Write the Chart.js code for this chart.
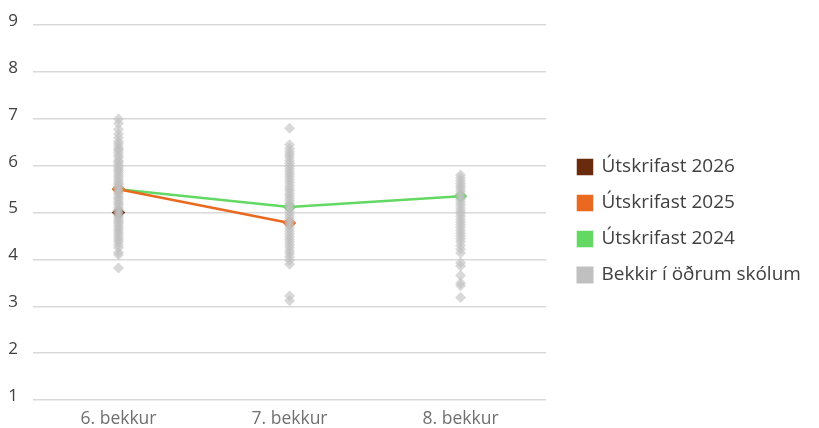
<!DOCTYPE html>
<html>
<head>
<meta charset="utf-8">
<script src="https://cdn.jsdelivr.net/npm/chart.js@4"></script>
<style>
  html, body { margin: 0; padding: 0; background: #fff; }
  #wrap { width: 819px; height: 428px; }
</style>
</head>
<body>
<div id="wrap"><canvas id="myChart"></canvas></div>
<script>
// Flokkar (bekkir)
const bekkir = ["6. bekkur", "7. bekkur", "8. bekkur"];

// Meðaltöl árganga
const utskrifast2026 = [5.0, null, null];
const utskrifast2025 = [5.5, 4.78, null];
const utskrifast2024 = [5.5, 5.12, 5.35];

// Bekkir í öðrum skólum (eitt gildi á hvern bekk)
const adrir6 = [7.0, 6.9, 6.78, 6.68, 6.6, 6.52, 6.47, 6.41, 6.36, 6.33, 6.28, 6.22, 6.18, 6.12, 6.08,
  6.03, 5.98, 5.94, 5.9, 5.86, 5.81, 5.77, 5.72, 5.68, 5.63, 5.6, 5.55, 5.51, 5.46, 5.42, 5.38,
  5.33, 5.29, 5.24, 5.2, 5.16, 5.11, 5.07, 5.02, 4.98, 4.93, 4.89, 4.84, 4.8, 4.76, 4.71, 4.66,
  4.62, 4.57, 4.52, 4.47, 4.42, 4.37, 4.31, 4.25, 4.15, 4.1, 3.82];
const adrir7 = [6.8, 6.45, 6.37, 6.3, 6.24, 6.18, 6.11, 6.05, 5.99, 5.93, 5.87, 5.82, 5.76, 5.7,
  5.64, 5.58, 5.52, 5.47, 5.41, 5.36, 5.3, 5.25, 5.19, 5.13, 5.08, 5.02, 4.96, 4.9, 4.85, 4.79,
  4.73, 4.67, 4.61, 4.55, 4.49, 4.43, 4.37, 4.31, 4.25, 4.18, 4.12, 4.05, 3.98, 3.9, 3.22, 3.12];
const adrir8 = [5.8, 5.74, 5.68, 5.62, 5.57, 5.52, 5.46, 5.4, 5.34, 5.28, 5.22, 5.16, 5.1, 5.04,
  4.98, 4.92, 4.86, 4.8, 4.74, 4.68, 4.62, 4.56, 4.5, 4.44, 4.38, 4.3, 4.22, 4.14, 3.93, 3.86,
  3.66, 3.5, 3.44, 3.19];

const adrirPunktar = [];
[adrir6, adrir7, adrir8].forEach((listi, i) => {
  listi.forEach((v) => adrirPunktar.push({ x: bekkir[i], y: v }));
});

// Færa skýringuna aðeins til hægri og niður frá teikningunni
const legendShift = {
  id: "legendShift",
  afterLayout(chart) {
    const lg = chart.legend;
    const d = 578 - 17 - lg.left;
    lg.left += d;
    lg.right += d;
    lg.top += 2;
    lg.bottom += 2;
  },
};

const ctx = document.getElementById("myChart").getContext("2d");
new Chart(ctx, {
  type: "line",
  plugins: [legendShift],
  data: {
    labels: bekkir,
    datasets: [
      {
        label: "Útskrifast 2026",
        data: utskrifast2026,
        borderColor: "#6a2a0c",
        backgroundColor: "#6a2a0c",
        borderWidth: 2.5,
        pointStyle: "rectRot",
        pointRadius: 5,
        order: 1,
      },
      {
        label: "Útskrifast 2025",
        data: utskrifast2025,
        borderColor: "#e8691f",
        backgroundColor: "#e8691f",
        borderWidth: 2.5,
        pointStyle: "rectRot",
        pointRadius: 5,
        order: 1,
      },
      {
        label: "Útskrifast 2024",
        data: utskrifast2024,
        borderColor: "#63d863",
        backgroundColor: "#63d863",
        borderWidth: 2.5,
        pointStyle: "rectRot",
        pointRadius: 5,
        order: 1,
      },
      {
        label: "Bekkir í öðrum skólum",
        data: adrirPunktar,
        showLine: false,
        borderColor: "#c0c0c0",
        backgroundColor: "#c0c0c0",
        pointBackgroundColor: "rgba(192,192,192,0.6)",
        pointBorderWidth: 0,
        pointStyle: "rectRot",
        pointRadius: 5.5,
        order: 0,
      },
    ],
  },
  options: {
    responsive: true,
    maintainAspectRatio: false,
    animation: false,
    layout: { padding: { top: 10, right: 23, left: 0, bottom: 0 } },
    plugins: {
      legend: {
        position: "right",
        align: "center",
        maxWidth: 300,
        labels: {
          boxWidth: 14,
          boxHeight: 14,
          padding: 17,
          color: "#404040",
          font: { family: "Open Sans", size: 19 },
          sort: (a, b) => a.datasetIndex - b.datasetIndex,
        },
      },
      tooltip: { enabled: false },
    },
    scales: {
      x: {
        offset: true,
        afterFit(scale) { scale.height = 28; },
        grid: { display: false, drawTicks: false },
        border: { display: false },
        ticks: {
          color: "#707070",
          padding: 9,
          font: { family: "Open Sans", size: 17.5 },
        },
      },
      y: {
        min: 1,
        max: 9,
        afterFit(scale) { scale.width = 33; },
        ticks: {
          stepSize: 1,
          color: "#404040",
          padding: 15,
          labelOffset: -4,
          font: { family: "Open Sans", size: 17 },
        },
        grid: { color: "#d9d9d9", lineWidth: 1.5, drawTicks: false },
        border: { display: false },
      },
    },
  },
});
</script>
</body>
</html>
